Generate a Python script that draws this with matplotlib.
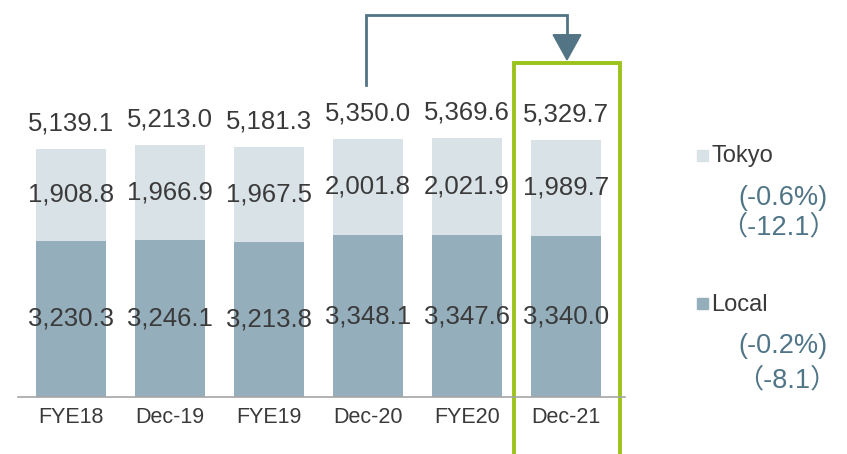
import matplotlib.pyplot as plt
from matplotlib.patches import Rectangle, Polygon

plt.rcParams['font.family'] = ['Liberation Sans', 'Noto Sans CJK JP']

categories = ['FYE18', 'Dec-19', 'FYE19', 'Dec-20', 'FYE20', 'Dec-21']
local = [3230.3, 3246.1, 3213.8, 3348.1, 3347.6, 3340.0]
tokyo = [1908.8, 1966.9, 1967.5, 2001.8, 2021.9, 1989.7]
totals = [5139.1, 5213.0, 5181.3, 5350.0, 5369.6, 5329.7]

c_local = '#94aebb'
c_tokyo = '#d9e2e7'
c_text = '#3a3a3a'
c_note = '#4f7587'
c_green = '#9bc31c'

W, H = 847, 454
fig = plt.figure(figsize=(W / 100, H / 100), dpi=100)
ax = fig.add_axes([0, 0, 1, 1])
ax.set_xlim(-71 / 99, (W - 71) / 99)
ax.set_ylim(-57 / 0.0483, 397 / 0.0483)
ax.axis('off')

x = list(range(len(categories)))
ax.bar(x, local, width=0.707, color=c_local)
ax.bar(x, tokyo, bottom=local, width=0.707, color=c_tokyo)

# baseline
ax.plot([-0.54, 5.6], [0, 0], color='#a6a6a6', lw=1.2)

for i in x:
    ax.text(i, local[i] / 2, f'{local[i]:,.1f}', ha='center', va='center',
            fontsize=18.5, color=c_text)
    ax.text(i, local[i] + tokyo[i] / 2, f'{tokyo[i]:,.1f}', ha='center',
            va='center', fontsize=18.5, color=c_text)
    ax.text(i, totals[i] + 280, f'{totals[i]:,.1f}', ha='center',
            va='bottom', fontsize=18.5, color=c_text)
    ax.text(i, -430, categories[i], ha='center', va='center',
            fontsize=15.5, color=c_text)

# highlight box on last bar
ax.add_patch(Rectangle((4.47, -1300), 1.08, 8215, fill=False,
                       edgecolor=c_green, lw=2.8, clip_on=False))

# arrow from Dec-20 to Dec-21
ax.plot([2.98, 2.98, 5.01, 5.01], [6460, 7900, 7900, 7400],
        color='#527484', lw=2, solid_joinstyle='miter')
ax.add_patch(Polygon([[4.87, 7500], [5.15, 7500], [5.01, 6980]],
                     closed=True, color='#527484'))

# legend-like notes on the right
def px(xp, yp):
    return xp / W, 1 - yp / H

fig.patches.append(Rectangle(px(697, 161), 11 / W, 11 / H, color=c_tokyo,
                             transform=fig.transFigure))
fig.text(*px(711, 156), 'Tokyo', fontsize=17, color=c_text, va='center')
fig.text(*px(827, 198), '(-0.6%)', fontsize=19.5, color=c_note,
         va='center', ha='right')
fig.text(*px(837, 227), '（-12.1）', fontsize=19.5, color=c_note,
         va='center', ha='right')

fig.patches.append(Rectangle(px(697, 309), 11 / W, 11 / H, color=c_local,
                             transform=fig.transFigure))
fig.text(*px(711, 305), 'Local', fontsize=17, color=c_text, va='center')
fig.text(*px(827, 346), '(-0.2%)', fontsize=19.5, color=c_note,
         va='center', ha='right')
fig.text(*px(837, 380), '（-8.1）', fontsize=19.5, color=c_note,
         va='center', ha='right')

fig.savefig('out.png', dpi=100)
